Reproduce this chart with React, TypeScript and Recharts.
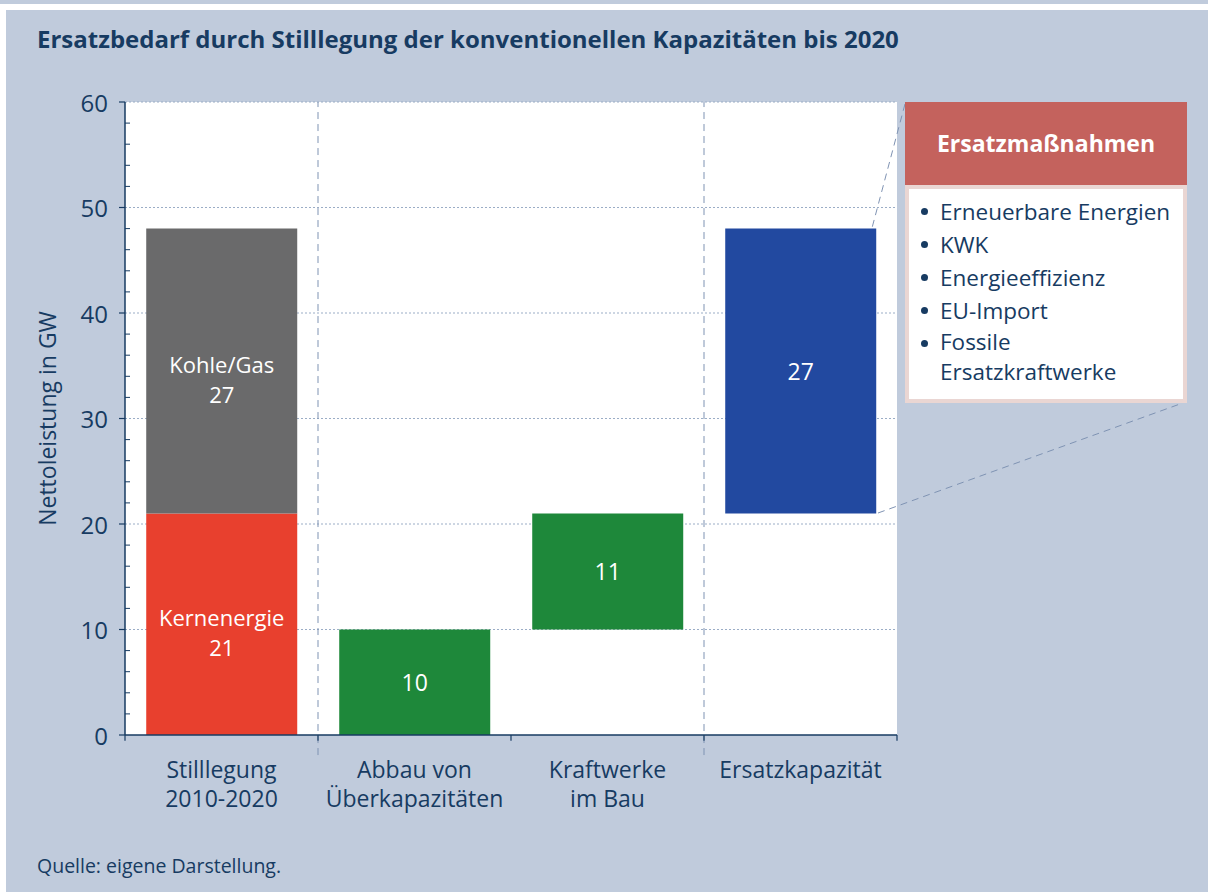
import { BarChart, Bar, XAxis, YAxis, CartesianGrid, ReferenceLine, LabelList } from "recharts";

const categories = ["Stilllegung\n2010-2020", "Abbau von\nÜberkapazitäten", "Kraftwerke\nim Bau", "Ersatzkapazität"];
const baseValues = [0, 0, 10, 21];
const kernValues = [21, 0, 0, 0];
const kohleValues = [27, 0, 0, 0];
const abbauValues = [0, 10, 11, 0];
const ersatzValues = [0, 0, 0, 27];
const yTicks = [0, 2, 4, 6, 8, 10, 12, 14, 16, 18, 20, 22, 24, 26, 28, 30, 32, 34, 36, 38, 40, 42, 44, 46, 48, 50, 52, 54, 56, 58, 60];
const gridValues = [10, 20, 30, 40, 50, 60];
// dashed separators sit at the start of these categories
const separatorCats = [categories[1], categories[3]];
const massnahmen = ["Erneuerbare Energien", "KWK", "Energieeffizienz", "EU-Import", "Fossile\nErsatzkraftwerke"];

const NAVY = "#173b62";
const FONT = "'Open Sans', 'Noto Sans', sans-serif";

const data = categories.map((name, i) => ({
  name,
  base: baseValues[i],
  kern: kernValues[i],
  kohle: kohleValues[i],
  abbau: abbauValues[i],
  ersatz: ersatzValues[i],
}));

function YTick({ x, y, payload }: any) {
  const axisX = x + 17;
  const major = payload.value % 10 === 0;
  if (!major) {
    return <line x1={axisX} x2={axisX + 5} y1={y} y2={y} stroke={NAVY} strokeWidth={1} />;
  }
  return (
    <g>
      <line x1={axisX - 6} x2={axisX} y1={y} y2={y} stroke={NAVY} strokeWidth={1.2} />
      <text x={x} y={y} textAnchor="end" dominantBaseline="central" fill={NAVY} fontSize={24} fontFamily={FONT}>
        {payload.value}
      </text>
    </g>
  );
}

function XTick({ x, y, payload }: any) {
  const lines = String(payload.value).split("\n");
  return (
    <text x={x} y={y + 35} textAnchor="middle" fill={NAVY} fontSize={23} fontFamily={FONT}>
      {lines.map((l, i) => (
        <tspan key={i} x={x} dy={i === 0 ? 0 : 29}>
          {l}
        </tspan>
      ))}
    </text>
  );
}

const barLabel = (title?: string) => (props: any) => {
  const { x, y, width, height, value } = props;
  if (!value) return null;
  const cx = x + width / 2;
  const cy = y + height / 2;
  if (!title) {
    return (
      <text x={cx} y={cy} textAnchor="middle" dominantBaseline="central" fill="#fff" fontSize={23} fontFamily={FONT}>
        {value}
      </text>
    );
  }
  return (
    <g>
      <text x={cx} y={cy - 7} textAnchor="middle" dominantBaseline="central" fill="#fff" fontSize={22} fontFamily={FONT}>
        {title}
      </text>
      <text x={cx} y={cy + 23} textAnchor="middle" dominantBaseline="central" fill="#fff" fontSize={22} fontFamily={FONT}>
        {value}
      </text>
    </g>
  );
};

export default function App() {
  return (
    <div style={{ position: "absolute", left: 0, top: 0, width: 1208, height: 892, background: "#c0cbdc", overflow: "hidden", fontFamily: FONT }}>
      <div style={{ position: "absolute", left: 0, top: 4, width: 1208, height: 6, background: "#fff" }} />
      <div style={{ position: "absolute", left: 0, top: 10, width: 6, height: 882, background: "#fff" }} />
      <div style={{ position: "absolute", left: 37, top: 22, fontSize: 24, fontWeight: 700, color: NAVY, whiteSpace: "nowrap" }}>
        Ersatzbedarf durch Stilllegung der konventionellen Kapazitäten bis 2020
      </div>
      <div style={{ position: "absolute", left: 0, top: 0 }}>
        <BarChart width={1208} height={892} data={data} margin={{ top: 102, right: 311, bottom: 57, left: 65 }} barCategoryGap="11%">
          <CartesianGrid vertical={false} horizontalValues={gridValues} stroke="#9badc6" strokeDasharray="2 2" fill="#fff" />
          <XAxis dataKey="name" tick={<XTick />} tickLine={false} axisLine={{ stroke: NAVY, strokeWidth: 1.5 }} height={100} interval={0} />
          <YAxis
            domain={[0, 60]}
            ticks={yTicks}
            interval={0}
            width={60}
            tickSize={6}
            tickMargin={11}
            tickLine={false}
            tick={<YTick />}
            axisLine={{ stroke: NAVY, strokeWidth: 1.5 }}
            label={{ value: "Nettoleistung in GW", angle: -90, position: "insideLeft", offset: -17, style: { fill: NAVY, fontSize: 23, fontFamily: FONT, textAnchor: "middle" } }}
          />
          {separatorCats.map((c) => (
            <ReferenceLine
              key={"s" + c}
              position="start"
              segment={[{ x: c, y: -1.9 }, { x: c, y: 60 }]}
              ifOverflow="visible"
              stroke="#7f93b3"
              strokeDasharray="7 5"
            />
          ))}
          {categories.map((c) => (
            <ReferenceLine
              key={"t" + c}
              position="start"
              segment={[{ x: c, y: 0 }, { x: c, y: -0.55 }]}
              ifOverflow="visible"
              stroke={NAVY}
              strokeWidth={1.2}
            />
          ))}
          <ReferenceLine
            position="end"
            segment={[{ x: categories[3], y: 0 }, { x: categories[3], y: -0.55 }]}
            ifOverflow="visible"
            stroke={NAVY}
            strokeWidth={1.2}
          />
          <Bar dataKey="base" stackId="a" fill="transparent" isAnimationActive={false} />
          <Bar dataKey="kern" stackId="a" fill="#e8402e" isAnimationActive={false}>
            <LabelList dataKey="kern" content={barLabel("Kernenergie")} />
          </Bar>
          <Bar dataKey="kohle" stackId="a" fill="#6a6a6b" isAnimationActive={false}>
            <LabelList dataKey="kohle" content={barLabel("Kohle/Gas")} />
          </Bar>
          <Bar dataKey="abbau" stackId="a" fill="#1e883a" isAnimationActive={false}>
            <LabelList dataKey="abbau" content={barLabel()} />
          </Bar>
          <Bar dataKey="ersatz" stackId="a" fill="#2249a0" isAnimationActive={false}>
            <LabelList dataKey="ersatz" content={barLabel()} />
          </Bar>
        </BarChart>
      </div>
      <svg style={{ position: "absolute", left: 0, top: 0 }} width={1208} height={892}>
        <line x1={905} y1={104} x2={872} y2={228} stroke="#7f93b3" strokeDasharray="7 5" />
        <line x1={878} y1={513} x2={1180} y2={404} stroke="#7f93b3" strokeDasharray="7 5" />
      </svg>
      <div
        style={{
          position: "absolute",
          left: 905,
          top: 102,
          width: 282,
          height: 83,
          background: "#c4625d",
          color: "#fff",
          fontWeight: 700,
          fontSize: 23,
          display: "flex",
          alignItems: "center",
          justifyContent: "center",
          paddingBottom: 2,
          boxSizing: "border-box",
        }}
      >
        Ersatzmaßnahmen
      </div>
      <div
        style={{
          position: "absolute",
          left: 905,
          top: 185,
          width: 282,
          height: 218,
          background: "#fff",
          border: "4px solid #ead6d3",
          boxSizing: "border-box",
          padding: "6px 0 0 12px",
          color: NAVY,
          fontSize: 22.5,
          lineHeight: "33px",
        }}
      >
        {massnahmen.map((m) => (
          <div key={m} style={{ display: "flex" }}>
            <span style={{ width: 19, flex: "none", display: "flex", height: 33, alignItems: "center" }}>
              <span style={{ width: 7, height: 7, borderRadius: 4, background: NAVY, display: "block" }} />
            </span>
            <span style={{ whiteSpace: "pre", lineHeight: m.includes("\n") ? "30px" : "33px" }}>{m}</span>
          </div>
        ))}
      </div>
      <div style={{ position: "absolute", left: 37, top: 852, fontSize: 19.5, color: NAVY }}>Quelle: eigene Darstellung.</div>
    </div>
  );
}
